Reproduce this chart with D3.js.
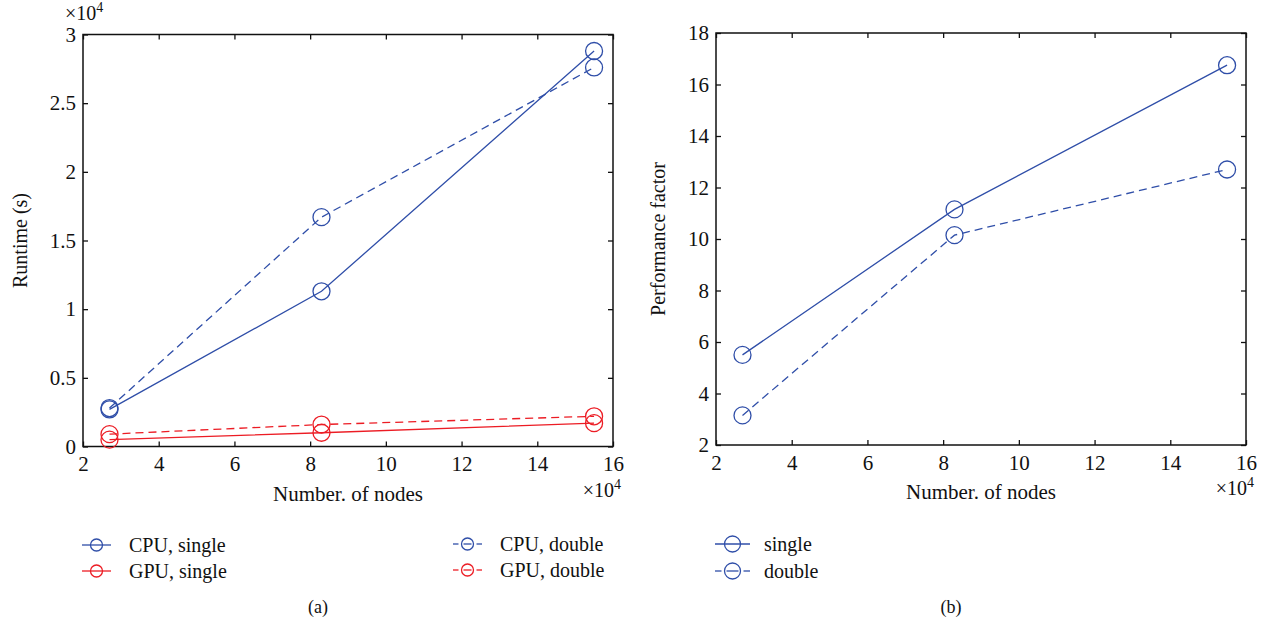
<!DOCTYPE html>
<html>
<head>
<meta charset="utf-8">
<script src="https://cdn.jsdelivr.net/npm/d3@7"></script>
<style>
body { margin: 0; background: #fff; }
text { font-family: "Liberation Serif", "DejaVu Serif", serif; fill: #111; }
</style>
</head>
<body>
<script>
// node counts, in units of 10^4
let nodes = [2.7, 8.3, 15.5]
// runtime, in units of 10^4 s
let cpuSingle = [0.27, 1.13, 2.88]
let cpuDouble = [0.28, 1.67, 2.76]
let gpuSingle = [0.05, 0.10, 0.17]
let gpuDouble = [0.09, 0.16, 0.22]
// speedup
let perfSingle = [5.5, 11.15, 16.75]
let perfDouble = [3.15, 10.15, 12.7]

let xTicks = [2, 4, 6, 8, 10, 12, 14, 16]
let runTicks = [0, 0.5, 1, 1.5, 2, 2.5, 3]
let perfTicks = [2, 4, 6, 8, 10, 12, 14, 16, 18]

let blue = "#2f4ea8"
let red = "#ec1c24"
let dash = "8,5"

let svg = d3.select("body").append("svg")
    .attr("width", 1265)
    .attr("height", 623)

function panel(box, yDomain, yTicks, yLabel, labelX, series) {
    let x = d3.scaleLinear().domain([2, 16]).range([box.left, box.right])
    let y = d3.scaleLinear().domain(yDomain).range([box.bottom, box.top])
    let g = svg.append("g")

    let bottom = g.append("g")
        .attr("transform", `translate(0,${box.bottom})`)
        .call(d3.axisBottom(x).tickValues(xTicks).tickSize(-5).tickPadding(7).tickFormat(d => d))
    g.append("g")
        .attr("transform", `translate(0,${box.top})`)
        .call(d3.axisTop(x).tickValues(xTicks).tickSize(-5).tickFormat(""))
    g.append("g")
        .attr("transform", `translate(${box.left},0)`)
        .call(d3.axisLeft(y).tickValues(yTicks).tickSize(-5).tickPadding(7).tickFormat(d => d))
    g.append("g")
        .attr("transform", `translate(${box.right},0)`)
        .call(d3.axisRight(y).tickValues(yTicks).tickSize(-5).tickFormat(""))

    g.selectAll(".domain").remove()
    g.selectAll(".tick line").attr("stroke", "#111").attr("stroke-width", 1.3)
    g.selectAll(".tick text")
        .attr("font-size", 21)
        .attr("font-family", "Liberation Serif")
        .attr("fill", "#111")
    bottom.selectAll(".tick text").attr("dy", "0.85em")

    g.append("rect")
        .attr("x", box.left).attr("y", box.top)
        .attr("width", box.right - box.left)
        .attr("height", box.bottom - box.top)
        .attr("fill", "none").attr("stroke", "#111").attr("stroke-width", 1.5)

    let line = d3.line().x((d, i) => x(nodes[i])).y(d => y(d))
    series.forEach(s => {
        g.append("path")
            .datum(s.values)
            .attr("d", line)
            .attr("fill", "none")
            .attr("stroke", s.color)
            .attr("stroke-width", 1.3)
            .attr("stroke-dasharray", s.dashed ? dash : null)
        g.selectAll(null)
            .data(s.values)
            .enter()
            .append("circle")
            .attr("cx", (d, i) => x(nodes[i]))
            .attr("cy", d => y(d))
            .attr("r", 8.5)
            .attr("fill", "none")
            .attr("stroke", s.color)
            .attr("stroke-width", 1.3)
    })

    g.append("text")
        .attr("x", (box.left + box.right) / 2)
        .attr("y", box.bottom + 54)
        .attr("text-anchor", "middle")
        .attr("font-size", 21)
        .text("Number. of nodes")
    let e1 = g.append("text")
        .attr("x", box.right + 8)
        .attr("y", box.bottom + 50)
        .attr("text-anchor", "end")
        .attr("font-size", 20)
    e1.append("tspan").text("\u00d710")
    e1.append("tspan").attr("dy", -8).attr("font-size", 14).text("4")

    g.append("text")
        .attr("transform", `translate(${labelX},${(box.top + box.bottom) / 2}) rotate(-90)`)
        .attr("text-anchor", "middle")
        .attr("font-size", 20)
        .text(yLabel)
    return g
}

let a = panel({left: 83, right: 613, top: 34.5, bottom: 446.5},
    [0, 3], runTicks, "Runtime (s)", 27,
    [
        {values: cpuSingle, color: blue, dashed: false},
        {values: cpuDouble, color: blue, dashed: true},
        {values: gpuSingle, color: red, dashed: false},
        {values: gpuDouble, color: red, dashed: true}
    ])
let e2 = a.append("text")
    .attr("x", 65).attr("y", 20)
    .attr("font-size", 20)
e2.append("tspan").text("\u00d710")
e2.append("tspan").attr("dy", -8).attr("font-size", 14).text("4")

panel({left: 716, right: 1246, top: 33, bottom: 445},
    [2, 18], perfTicks, "Performance factor", 665,
    [
        {values: perfSingle, color: blue, dashed: false},
        {values: perfDouble, color: blue, dashed: true}
    ])

// legends
let legendItems = [
    {label: "CPU, single", color: blue, dashed: false, x: 82, y: 545},
    {label: "GPU, single", color: red, dashed: false, x: 82, y: 571},
    {label: "CPU, double", color: blue, dashed: true, x: 453, y: 544},
    {label: "GPU, double", color: red, dashed: true, x: 453, y: 570},
    {label: "single", color: blue, dashed: false, x: 715, y: 544, big: true},
    {label: "double", color: blue, dashed: true, x: 715, y: 571, big: true}
]
let lg = svg.append("g")
legendItems.forEach(d => {
    let w = d.big ? 35 : 29
    let r = d.big ? 8 : 6
    let item = lg.append("g").attr("transform", `translate(${d.x},${d.y})`)
    if (d.dashed) {
        item.append("line").attr("x1", 0).attr("x2", w / 2 - r - 3).attr("y1", 0).attr("y2", 0)
            .attr("stroke", d.color).attr("stroke-width", 1.3)
        item.append("line").attr("x1", w / 2 - r + 2).attr("x2", w / 2 + r - 2).attr("y1", 0).attr("y2", 0)
            .attr("stroke", d.color).attr("stroke-width", 1.3)
        item.append("line").attr("x1", w / 2 + r + 3).attr("x2", w).attr("y1", 0).attr("y2", 0)
            .attr("stroke", d.color).attr("stroke-width", 1.3)
    } else {
        item.append("line").attr("x1", 0).attr("x2", w).attr("y1", 0).attr("y2", 0)
            .attr("stroke", d.color).attr("stroke-width", 1.3)
    }
    item.append("circle").attr("cx", w / 2).attr("cy", 0).attr("r", r)
        .attr("fill", "none").attr("stroke", d.color).attr("stroke-width", 1.3)
    item.append("text")
        .attr("x", d.big ? 49 : 47)
        .attr("y", 7)
        .attr("font-size", 20)
        .text(d.label)
})

svg.append("text").attr("x", 318).attr("y", 613)
    .attr("text-anchor", "middle").attr("font-size", 18).text("(a)")
svg.append("text").attr("x", 951).attr("y", 613)
    .attr("text-anchor", "middle").attr("font-size", 18).text("(b)")
</script>
</body>
</html>
